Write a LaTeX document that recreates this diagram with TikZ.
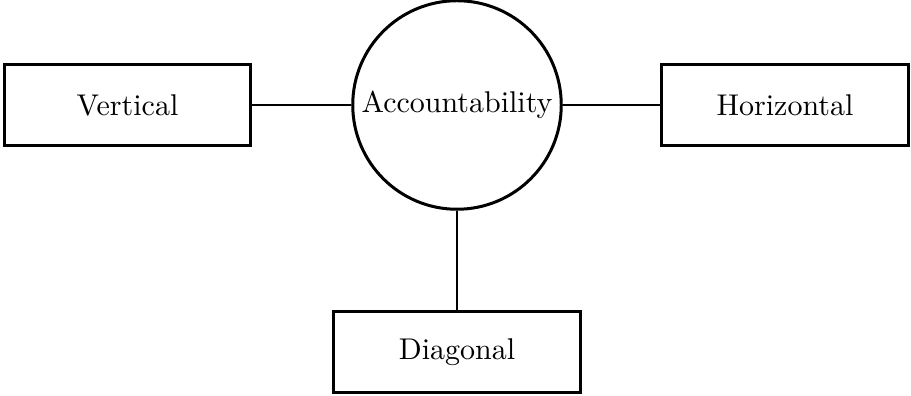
\documentclass[tikz,border=0pt]{standalone}
\begin{document}
\begin{tikzpicture}[x=0.3333pt,y=-0.3333pt,
  box/.style={draw,line width=1pt,minimum width=82pt,minimum height=27pt,inner sep=0pt},
  hub/.style={draw,circle,line width=1pt,minimum size=69.5pt,inner sep=0pt},
  link/.style={line width=0.65pt}]
  \useasboundingbox (0,0) rectangle (911,396);
  \node[hub] (acc) at (457,105) {Accountability};
  \node[box] (ver) at (127.5,105) {Vertical};
  \node[box] (hor) at (785,105) {Horizontal};
  \node[box] (dia) at (457,352) {Diagonal};
  \draw[link] (ver) -- (acc);
  \draw[link] (acc) -- (hor);
  \draw[link] (acc) -- (dia);
\end{tikzpicture}
\end{document}
